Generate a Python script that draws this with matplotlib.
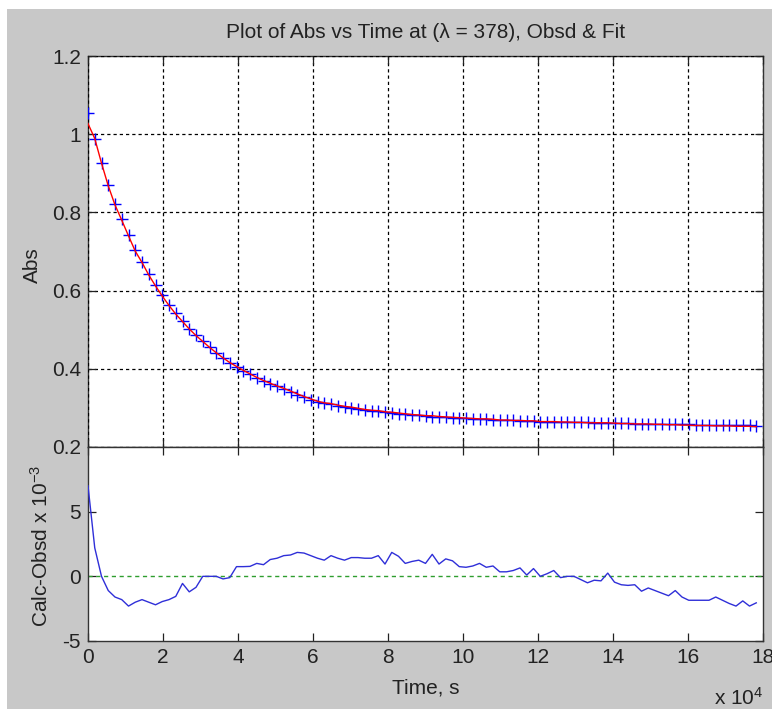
import numpy as np
import matplotlib
matplotlib.use("Agg")
import matplotlib.pyplot as plt
from matplotlib.patches import Rectangle
from matplotlib.ticker import FixedLocator

plt.rcParams['font.family'] = ['Liberation Sans', 'DejaVu Sans']
plt.rcParams['mathtext.fontset'] = 'custom'
plt.rcParams['mathtext.rm'] = 'Liberation Sans'
plt.rcParams['mathtext.it'] = 'Liberation Sans'
plt.rcParams['axes.unicode_minus'] = False

# ---------------- data ----------------
time_s = np.arange(100) * 1800.0  # sampling grid, s

abs_obsd = [
    1.053, 0.987, 0.926, 0.869, 0.821, 0.782, 0.742, 0.703, 0.674, 0.642,
    0.614, 0.588, 0.564, 0.542, 0.522, 0.503, 0.486, 0.470, 0.455, 0.441,
    0.428, 0.416, 0.405, 0.395, 0.386, 0.377, 0.369, 0.362, 0.355, 0.348,
    0.341, 0.334, 0.327, 0.321, 0.316, 0.312, 0.309, 0.306, 0.303, 0.301,
    0.298, 0.295, 0.293, 0.291, 0.289, 0.287, 0.285, 0.284, 0.282, 0.281,
    0.279, 0.278, 0.277, 0.276, 0.275, 0.274, 0.273, 0.272, 0.271, 0.271,
    0.270, 0.269, 0.269, 0.268, 0.267, 0.267, 0.266, 0.265, 0.265, 0.265,
    0.264, 0.264, 0.263, 0.263, 0.263, 0.262, 0.262, 0.262, 0.261, 0.261,
    0.261, 0.260, 0.260, 0.260, 0.259, 0.259, 0.259, 0.258, 0.258, 0.258,
    0.257, 0.257, 0.257, 0.256, 0.256, 0.256, 0.255, 0.255, 0.255, 0.254,
]

abs_fit = [
    1.027, 0.989, 0.926, 0.868, 0.819, 0.780, 0.740, 0.701, 0.672, 0.640,
    0.612, 0.586, 0.562, 0.540, 0.521, 0.502, 0.485, 0.470, 0.455, 0.441,
    0.428, 0.416, 0.406, 0.396, 0.387, 0.378, 0.370, 0.363, 0.356, 0.350,
    0.343, 0.336, 0.329, 0.323, 0.317, 0.313, 0.311, 0.307, 0.304, 0.302,
    0.299, 0.296, 0.294, 0.293, 0.290, 0.289, 0.287, 0.285, 0.283, 0.282,
    0.280, 0.280, 0.278, 0.277, 0.276, 0.275, 0.274, 0.273, 0.272, 0.272,
    0.271, 0.269, 0.269, 0.268, 0.268, 0.267, 0.267, 0.265, 0.265, 0.265,
    0.264, 0.264, 0.263, 0.263, 0.262, 0.262, 0.262, 0.262, 0.261, 0.260,
    0.260, 0.259, 0.259, 0.259, 0.258, 0.258, 0.257, 0.257, 0.256, 0.256,
    0.255, 0.255, 0.255, 0.254, 0.254, 0.254, 0.253, 0.253, 0.253, 0.252,
]

resid_e3 = [
    7.0, 2.2, 0.0, -1.1, -1.6, -1.8, -2.3, -2.0, -1.8, -2.0,
    -2.2, -1.95, -1.8, -1.55, -0.55, -1.2, -0.85, 0.0, 0.0, 0.0,
    -0.2, -0.1, 0.75, 0.75, 0.77, 1.0, 0.9, 1.3, 1.4, 1.6,
    1.65, 1.85, 1.8, 1.6, 1.4, 1.25, 1.6, 1.4, 1.25, 1.45,
    1.45, 1.4, 1.4, 1.6, 0.95, 1.85, 1.55, 1.0, 1.15, 1.25,
    1.0, 1.7, 0.95, 1.35, 1.2, 0.75, 0.7, 0.8, 1.0, 0.7,
    0.8, 0.35, 0.35, 0.45, 0.65, 0.1, 0.6, 0.0, 0.2, 0.45,
    -0.1, 0.0, 0.0, -0.25, -0.5, -0.3, -0.35, 0.25, -0.45, -0.65,
    -0.7, -0.65, -1.15, -0.9, -1.1, -1.3, -1.5, -1.1, -1.6, -1.85,
    -1.85, -1.85, -1.85, -1.6, -1.85, -2.1, -2.3, -1.9, -2.3, -2.05,
]

x_ticks = [0, 2, 4, 6, 8, 10, 12, 14, 16, 18]       # x 10^4 s
top_yticks = [0.2, 0.4, 0.6, 0.8, 1.0, 1.2]
top_yticklabels = ['0.2', '0.4', '0.6', '0.8', '1', '1.2']
bot_yticks = [-5, 0, 5]
bot_yticklabels = ['-5', '0', '5']

title = 'Plot of Abs vs Time at (\u03bb = 378), Obsd & Fit'

# ---------------- figure ----------------
W, H = 772, 709
fig = plt.figure(figsize=(W / 100, H / 100), dpi=100, facecolor='white')
fig.patches.append(Rectangle((7 / W, 0), 1 - 7 / W, 1 - 9 / H, transform=fig.transFigure,
                             facecolor='#c8c8c8', edgecolor='none', zorder=-10))

def fx(px):
    return px / W

def fy(py):
    return 1 - py / H

L, R = 88, 763
ax1 = fig.add_axes([fx(L), fy(447), fx(R) - fx(L), fy(56) - fy(447)])
ax2 = fig.add_axes([fx(L), fy(641), fx(R) - fx(L), fy(447) - fy(641)])

FS = 15
for ax in (ax1, ax2):
    ax.set_facecolor('white')
    ax.set_xlim(0, 18e4)
    ax.xaxis.set_major_locator(FixedLocator([v * 1e4 for v in x_ticks]))
    ax.tick_params(direction='in', length=6, width=0.9, top=True, right=True,
                   labelsize=FS, colors='#222222', pad=5)
    for s in ax.spines.values():
        s.set_color('#333333')
        s.set_linewidth(1.0)

# top panel
ax1.plot(time_s, abs_obsd, linestyle='none', marker='+', color='#0000ff',
         markersize=9, markeredgewidth=1.0, zorder=3)
ax1.plot(time_s, abs_fit, color='#ff0000', linewidth=1.0, zorder=4)
ax1.set_ylim(0.2, 1.2)
ax1.set_yticks(top_yticks)
ax1.set_yticklabels(top_yticklabels)
ax1.tick_params(labelbottom=False)
ax1.grid(True, color='black', linestyle=(0, (2.6, 2.4)), linewidth=0.9)
ax1.set_axisbelow(False)

# bottom panel
ax2.plot(time_s, resid_e3, color='#2f2fd8', linewidth=1.0, zorder=3)
ax2.axhline(0, color='#2e9e2e', linestyle=(0, (3.0, 2.6)), linewidth=1.0, zorder=2)
ax2.set_ylim(-5, 10)
ax2.set_yticks(bot_yticks)
ax2.set_yticklabels(bot_yticklabels)
ax2.set_xticklabels([str(v) for v in x_ticks])

# texts
fig.text(0.5 * (fx(L) + fx(R)), fy(38), title, ha='center', va='baseline',
         fontsize=15, color='#222222')
fig.text(fx(32), fy(265), 'Abs', rotation=90, ha='center', va='center',
         fontsize=FS, color='#222222')
fig.text(fx(41), fy(546), 'Calc-Obsd x 10$^{-3}$', rotation=90, ha='center', va='center',
         fontsize=FS, color='#222222')
fig.text(0.5 * (fx(L) + fx(R)), fy(694), 'Time, s', ha='center', va='baseline',
         fontsize=FS, color='#222222')
fig.text(fx(763), fy(705), 'x 10$^{4}$', ha='right', va='baseline',
         fontsize=FS, color='#222222')

fig.savefig('out.png', dpi=100, facecolor=fig.get_facecolor())
